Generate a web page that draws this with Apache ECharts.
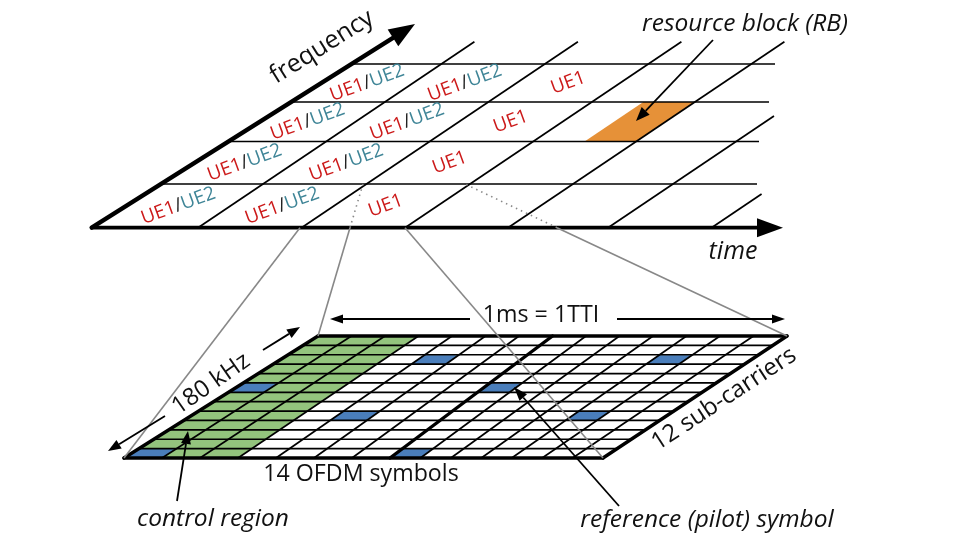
<!DOCTYPE html>
<html>
<head>
<meta charset="utf-8">
<script src="https://cdn.jsdelivr.net/npm/echarts/dist/echarts.min.js"></script>
<style>
  html, body { margin: 0; padding: 0; background: #ffffff; }
  #chart { width: 960px; height: 540px; }
</style>
</head>
<body>
<div id="chart"></div>
<script>
// ---------------- DATA ----------------
// Lower detail: one resource block (OFDM symbols x sub-carriers)
const ofdmSymbols = [0, 1, 2, 3, 4, 5, 6, 7, 8, 9, 10, 11, 12, 13];
const subcarriers = [0, 1, 2, 3, 4, 5, 6, 7, 8, 9, 10, 11, 12];
const controlSymbols = [0, 1, 2];
const pilotREs = [[0, 0], [7, 0], [4, 4], [11, 4], [0, 7], [7, 7], [4, 10], [11, 10]]; // [symbol, sub-carrier]
const slotBoundarySymbol = 7;

// Upper overview: frequency rows (bottom -> top) x TTI cells
const freqRows = [0, 1, 2, 3];
const ttiCells = [0, 1, 2];
const ueAllocation = [
  ['UE1/UE2', 'UE1/UE2', 'UE1'],
  ['UE1/UE2', 'UE1/UE2', 'UE1'],
  ['UE1/UE2', 'UE1/UE2', 'UE1'],
  ['UE1/UE2', 'UE1/UE2', 'UE1']
];
const ttiLines = [0, 1, 2, 3, 4, 5];
const highlightedRB = [[2, 3, 1]]; // [freqRow, ttiCell, slot]

// ---------------- LAYOUT / STYLE ----------------
const C = { red: '#cc1a1a', teal: '#3f8597', green: '#93c47d', blue: '#4a7ebb',
            orange: '#e69138', gray: '#888888', black: '#000000', white: '#ffffff' };
const FONT = '"Open Sans", "Noto Sans", sans-serif';
const LOW = { yTop: 336, yBot: 458, xBotL: 124, xBotM: 390, xBotR: 603, xTopL: 318, xTopR: 787 };
const UP = {
  origin: [91.7, 227.7], freqTip: [415, 24], timeTip: [783, 227.7],
  rowY: [227.7, 184, 141.5, 102, 64],
  rowRightX: [783, 757, 759, 769, 775],
  ttiBottomX: [198, 301.5, 405, 508, 608, 711.5],
  ttiTopY: [41.7, 41.7, 41.7, 41.7, 116, 194],
  slope: 1.486
};

const nSym = ofdmSymbols.length, nSc = subcarriers.length;
function lowPt(c, r) {
  const xb = c <= slotBoundarySymbol
    ? LOW.xBotL + c * (LOW.xBotM - LOW.xBotL) / slotBoundarySymbol
    : LOW.xBotM + (c - slotBoundarySymbol) * (LOW.xBotR - LOW.xBotM) / (nSym - slotBoundarySymbol);
  const xt = LOW.xTopL + c * (LOW.xTopR - LOW.xTopL) / nSym;
  const t = r / nSc;
  return [xb + (xt - xb) * t, LOW.yBot - (LOW.yBot - LOW.yTop) * t];
}
function fx(y) {
  const o = UP.origin, f = UP.freqTip;
  return o[0] + (o[1] - y) * (f[0] - o[0]) / (o[1] - f[1]);
}
function tx(j, y) { return UP.ttiBottomX[j] + (UP.origin[1] - y) * UP.slope; }
function cellLeft(c, y) { return c === 0 ? fx(y) : tx(c - 1, y); }
function cellRight(c, y) { return tx(c, y); }

function headPts(from, to, len, hw) {
  const dx = to[0] - from[0], dy = to[1] - from[1];
  const d = Math.hypot(dx, dy), ux = dx / d, uy = dy / d;
  const bx = to[0] - ux * len, by = to[1] - uy * len;
  return { base: [bx, by], pts: [to, [bx - uy * hw, by + ux * hw], [bx + uy * hw, by - ux * hw]] };
}

// ---------------- derived series data ----------------
const lowerCells = [];
ofdmSymbols.forEach(s => subcarriers.forEach(k => {
  let kind = controlSymbols.indexOf(s) >= 0 ? 1 : 0;
  if (pilotREs.some(p => p[0] === s && p[1] === k)) kind = 2;
  lowerCells.push([s, k, kind]);
}));
const lowerLines = [];
subcarriers.concat([nSc]).forEach(k => lowerLines.push([0, k]));
ofdmSymbols.concat([nSym]).forEach(s => lowerLines.push([1, s]));

const upperLines = [];
freqRows.forEach(r => upperLines.push([0, r + 1]));
ttiLines.forEach(j => upperLines.push([1, j]));
upperLines.push([2, 0], [2, 1]);

const ueData = [];
freqRows.forEach(r => ttiCells.forEach(c => ueData.push([r, c])));

const kindColor = [C.white, C.green, C.blue];

// ---------------- annotations (graphic) ----------------
const graphics = [];
function addLine(a, b, color, w, dash, z) {
  graphics.push({ type: 'line', z: z || 50, shape: { x1: a[0], y1: a[1], x2: b[0], y2: b[1] },
    style: { stroke: color, lineWidth: w, lineDash: dash || null, lineCap: 'butt' } });
}
function addArrow(from, to, w, len, hw) {
  const h = headPts(from, to, len, hw);
  addLine(from, h.base, C.black, w, null, 60);
  graphics.push({ type: 'polygon', z: 60, shape: { points: h.pts }, style: { fill: C.black } });
}
function addText(txt, x, y, size, italic, rotDeg) {
  graphics.push({ type: 'text', z: 70, x: x, y: y, rotation: (rotDeg || 0) * Math.PI / 180,
    style: { text: txt, font: (italic ? 'italic ' : '') + size + 'px ' + FONT, fill: '#111',
             align: 'center', verticalAlign: 'middle', textAlign: 'center', textVerticalAlign: 'middle' } });
}
// zoom connectors
addLine([300, 227.7], lowPt(0, 0), C.gray, 1.6);
addLine([350, 227.7], lowPt(0, nSc), C.gray, 1.6);
addLine([405, 227.7], lowPt(nSym, 0), C.gray, 1.6);
addLine([557, 227.7], lowPt(nSym, nSc), C.gray, 1.6);
addLine([350, 227.7], [363, 184], C.gray, 1.6, [1.5, 4]);
addLine([557, 227.7], [465, 184], C.gray, 1.6, [1.5, 4]);
// arrows
addArrow([713, 40], [636, 121], 1.8, 14, 5.5);
addArrow([470, 319], [330, 319], 1.8, 13, 4.5);
addArrow([617, 319], [785, 319], 1.8, 13, 4.5);
addArrow([263, 350], [300, 327], 1.8, 13, 5);
addArrow([165, 416], [108, 451], 1.8, 13, 5);
addArrow([177, 501], [188, 431], 1.8, 13, 5);
addArrow([619, 506], [514, 387], 1.8, 14, 5);
// texts
addText('frequency', 322, 47, 25, false, 32);
addText('time', 733, 252, 25, true, 0);
addText('resource block (RB)', 745, 24, 24.5, true, 0);
addText('1ms = 1TTI', 541, 315, 23.2, false, 0);
addText('180 kHz', 211, 384, 24, false, 35);
addText('12 sub-carriers', 724, 399, 24, false, 33.3);
addText('14 OFDM symbols', 361, 474, 23.2, false, 0);
addText('control region', 213, 519, 24.5, true, 0);
addText('reference (pilot) symbol', 707, 520, 24.5, true, 0);

// ---------------- chart ----------------
const chart = echarts.init(document.getElementById('chart'), null, { renderer: 'canvas' });
chart.setOption({
  animation: false,
  backgroundColor: '#ffffff',
  grid: { left: 0, right: 0, top: 0, bottom: 0 },
  xAxis: { type: 'value', min: 0, max: 960, show: false },
  yAxis: { type: 'value', min: 0, max: 540, inverse: true, show: false },
  graphic: { elements: graphics },
  series: [
    { // lower resource-element cells
      type: 'custom', coordinateSystem: 'cartesian2d', clip: false, z: 2, silent: true,
      data: lowerCells,
      renderItem: function (params, api) {
        const s = api.value(0), k = api.value(1), kind = api.value(2);
        const pts = [lowPt(s, k), lowPt(s + 1, k), lowPt(s + 1, k + 1), lowPt(s, k + 1)].map(p => api.coord(p));
        return { type: 'polygon', shape: { points: pts },
          style: { fill: kindColor[kind], stroke: kindColor[kind], lineWidth: 0.6 } };
      }
    },
    { // lower grid lines
      type: 'custom', coordinateSystem: 'cartesian2d', clip: false, z: 3, silent: true,
      data: lowerLines,
      renderItem: function (params, api) {
        const t = api.value(0), i = api.value(1);
        let a, b, w;
        if (t === 0) { a = lowPt(0, i); b = lowPt(nSym, i); w = (i === 0 || i === nSc) ? 3.4 : 1.7; }
        else { a = lowPt(i, 0); b = lowPt(i, nSc); w = (i === 0 || i === nSym || i === slotBoundarySymbol) ? 3.4 : 1.7; }
        const p1 = api.coord(a), p2 = api.coord(b);
        return { type: 'line', z2: w > 2 ? 2 : 1, shape: { x1: p1[0], y1: p1[1], x2: p2[0], y2: p2[1] },
          style: { stroke: C.black, lineWidth: w, lineCap: w > 2 ? 'round' : 'butt' } };
      }
    },
    { // highlighted resource block
      type: 'custom', coordinateSystem: 'cartesian2d', clip: false, z: 2, silent: true,
      data: highlightedRB,
      renderItem: function (params, api) {
        const r = api.value(0), c = api.value(1), slot = api.value(2);
        const yb = UP.rowY[r], yt = UP.rowY[r + 1];
        function part(y, f) { const l = cellLeft(c, y), rr = cellRight(c, y); return l + (rr - l) * f; }
        const f0 = slot * 0.5, f1 = f0 + 0.5;
        const pts = [[part(yb, f0), yb], [part(yb, f1), yb], [part(yt, f1), yt], [part(yt, f0), yt]].map(p => api.coord(p));
        return { type: 'polygon', shape: { points: pts }, style: { fill: C.orange } };
      }
    },
    { // upper grid lines and axes
      type: 'custom', coordinateSystem: 'cartesian2d', clip: false, z: 4, silent: true,
      data: upperLines,
      renderItem: function (params, api) {
        const t = api.value(0), i = api.value(1);
        if (t === 0) {
          const y = UP.rowY[i];
          const p1 = api.coord([fx(y), y]), p2 = api.coord([UP.rowRightX[i], y]);
          return { type: 'line', shape: { x1: p1[0], y1: p1[1], x2: p2[0], y2: p2[1] },
            style: { stroke: C.black, lineWidth: 1.7 } };
        }
        if (t === 1) {
          const yt = UP.ttiTopY[i];
          const p1 = api.coord([UP.ttiBottomX[i], UP.origin[1]]), p2 = api.coord([tx(i, yt), yt]);
          return { type: 'line', shape: { x1: p1[0], y1: p1[1], x2: p2[0], y2: p2[1] },
            style: { stroke: C.black, lineWidth: 1.7 } };
        }
        const tip = i === 0 ? UP.timeTip : UP.freqTip;
        const h = headPts(UP.origin, tip, 26, i === 0 ? 9.5 : 10);
        const o = api.coord(UP.origin), b = api.coord(h.base);
        return { type: 'group', children: [
          { type: 'line', shape: { x1: o[0], y1: o[1], x2: b[0], y2: b[1] },
            style: { stroke: C.black, lineWidth: i === 0 ? 3.8 : 4.4, lineCap: 'round' } },
          { type: 'polygon', shape: { points: h.pts.map(p => api.coord(p)) }, style: { fill: C.black } }
        ] };
      }
    },
    { // UE allocation labels
      type: 'custom', coordinateSystem: 'cartesian2d', clip: false, z: 5, silent: true,
      data: ueData,
      renderItem: function (params, api) {
        const r = api.value(0), c = api.value(1);
        const y = (UP.rowY[r] + UP.rowY[r + 1]) / 2;
        const x = (cellLeft(c, y) + cellRight(c, y)) / 2;
        const p = api.coord([x, y]);
        const parts = ueAllocation[r][c].split('/');
        const txt = parts.length > 1 ? '{a|' + parts[0] + '}{s|/}{b|' + parts[1] + '}' : '{a|' + parts[0] + '}';
        const f = '19px ' + FONT;
        return { type: 'text', x: p[0], y: p[1], rotation: 20 * Math.PI / 180,
          style: { text: txt, align: 'center', verticalAlign: 'middle', font: f,
            rich: { a: { fill: C.red, font: f }, s: { fill: '#222', font: f }, b: { fill: C.teal, font: f } } } };
      }
    }
  ]
});
</script>
</body>
</html>
